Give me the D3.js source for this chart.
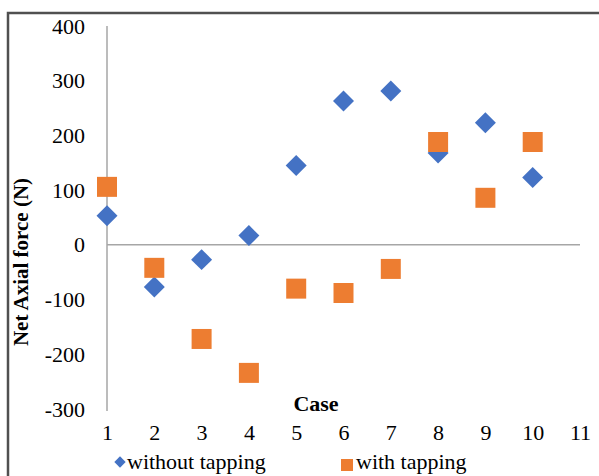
<!DOCTYPE html>
<html>
<head>
<meta charset="utf-8">
<script src="https://cdn.jsdelivr.net/npm/d3@7"></script>
<style>
  html, body { margin: 0; padding: 0; background: #fff; }
  svg { display: block; font-family: "Liberation Serif", "Times New Roman", serif; }
</style>
</head>
<body>
<script>
const cases = [1, 2, 3, 4, 5, 6, 7, 8, 9, 10];
const withoutTapping = [53, -77, -27, 17, 145, 263, 281, 168, 223, 123];
const withTapping = [106, -42, -172, -234, -80, -88, -44, 188, 86, 188];
const xTicks = [1, 2, 3, 4, 5, 6, 7, 8, 9, 10, 11];
const yTicks = [-300, -200, -100, 0, 100, 200, 300, 400];

const width = 599, height = 476;
const blue = "#4472c4", orange = "#ed7d31", axisGrey = "#a6a6a6";

const svg = d3.select("body").append("svg")
  .attr("width", width)
  .attr("height", height);

// chart frame (runs off the right and bottom edge)
svg.append("rect")
  .attr("x", 8).attr("y", 13)
  .attr("width", 620).attr("height", 500)
  .attr("fill", "none")
  .attr("stroke", "#505050")
  .attr("stroke-width", 2.5);

const x = d3.scaleLinear().domain([1, 11]).range([107, 580]);
const y = d3.scaleLinear().domain([-300, 400]).range([409, 26]);

// y axis labels (plain hyphen for negatives, as in the source)
svg.append("g")
  .attr("transform", "translate(85,0)")
  .call(d3.axisLeft(y).tickValues(yTicks).tickSize(0).tickPadding(0).tickFormat(d => String(d)))
  .call(g => g.select(".domain").remove())
  .call(g => g.selectAll("text")
    .attr("font-size", 22)
    .attr("font-family", "Liberation Serif")
    .attr("fill", "#000"));

// x axis labels
svg.append("g")
  .attr("transform", "translate(0,424)")
  .call(d3.axisBottom(x).tickValues(xTicks).tickSize(0).tickPadding(0))
  .call(g => g.select(".domain").remove())
  .call(g => g.selectAll("text")
    .attr("font-size", 22)
    .attr("font-family", "Liberation Serif")
    .attr("fill", "#000"));

// vertical axis line and zero line
svg.append("line")
  .attr("x1", x(1)).attr("x2", x(1))
  .attr("y1", y(400)).attr("y2", y(-300) + 2)
  .attr("stroke", axisGrey).attr("stroke-width", 1.5);

svg.append("line")
  .attr("x1", x(1)).attr("x2", x(11))
  .attr("y1", y(0)).attr("y2", y(0))
  .attr("stroke", axisGrey).attr("stroke-width", 1.5);

// axis titles
svg.append("text")
  .attr("x", 316).attr("y", 411)
  .attr("text-anchor", "middle")
  .attr("font-size", 22)
  .attr("font-weight", "bold")
  .text("Case");

svg.append("text")
  .attr("transform", "translate(28,262) rotate(-90)")
  .attr("text-anchor", "middle")
  .attr("font-size", 21)
  .attr("font-weight", "bold")
  .text("Net Axial force (N)");

// series
const diamond = d3.symbol().type(d3.symbolSquare).size(220);
const square = d3.symbol().type(d3.symbolSquare).size(400);

svg.append("g").selectAll("path")
  .data(cases)
  .join("path")
  .attr("d", diamond)
  .attr("transform", (d, i) => `translate(${x(d)},${y(withoutTapping[i])}) rotate(45)`)
  .attr("fill", blue);

svg.append("g").selectAll("path")
  .data(cases)
  .join("path")
  .attr("d", square)
  .attr("transform", (d, i) => `translate(${x(d)},${y(withTapping[i])})`)
  .attr("fill", orange);

// legend
const legend = svg.append("g").attr("font-size", 22);

legend.append("path")
  .attr("d", d3.symbol().type(d3.symbolSquare).size(64))
  .attr("transform", "translate(120,462) rotate(45)")
  .attr("fill", blue);
legend.append("text")
  .attr("x", 127).attr("y", 469)
  .text("without tapping");

legend.append("rect")
  .attr("x", 341).attr("y", 459)
  .attr("width", 12).attr("height", 12)
  .attr("fill", orange);
legend.append("text")
  .attr("x", 356).attr("y", 469)
  .text("with tapping");
</script>
</body>
</html>
